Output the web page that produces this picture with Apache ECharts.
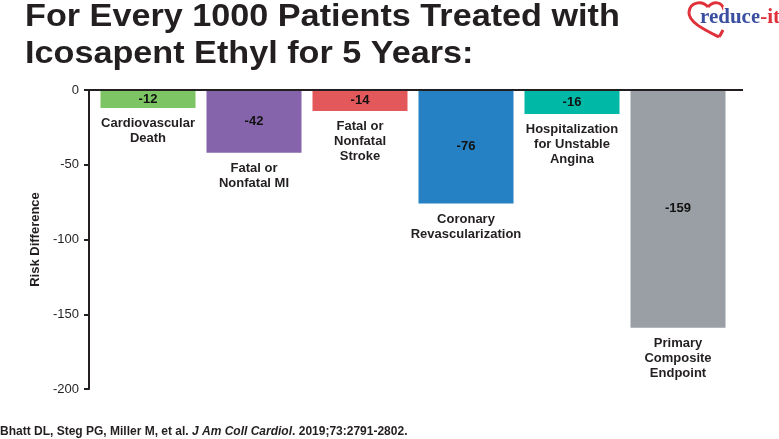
<!DOCTYPE html>
<html>
<head>
<meta charset="utf-8">
<script src="https://cdn.jsdelivr.net/npm/echarts@6/dist/echarts.min.js"></script>
<style>
html,body{margin:0;padding:0;background:#fff;}
#chart{width:779px;height:439px;}
</style>
</head>
<body>
<div id="chart"></div>
<script>
const categories = [
  'Cardiovascular\nDeath',
  'Fatal or\nNonfatal MI',
  'Fatal or\nNonfatal\nStroke',
  'Coronary\nRevascularization',
  'Hospitalization\nfor Unstable\nAngina',
  'Primary\nComposite\nEndpoint'
];
const values = [-12, -42, -14, -76, -16, -159];
const barColors = ['#7cc464', '#8664ab', '#e3585b', '#2581c4', '#00b8a6', '#9a9fa5'];
const yMin = -200, yMax = 0, yInterval = 50;
const titleLines = ['For Every 1000 Patients Treated with', 'Icosapent Ethyl for 5 Years:'];
const citation = ['Bhatt DL, Steg PG, Miller M, et al. ', 'J Am Coll Cardiol', '. 2019;73:2791-2802.'];

const dark = '#231f20';
const font = '"Liberation Sans", Arial, sans-serif';
const serif = '"Liberation Serif", "DejaVu Serif", serif';
const heartRed = '#e0313b';
const heartSegs = [
  [708, 7, 689, 12, 702, 0, 690, 2],
  [689, 12, 719, 37, 688, 22, 705, 30],
  [719, 37, 723, 30, 721, 34, 722, 32],
  [708, 7, 724, 10, 713, 1, 722, 1]
];
const chart = echarts.init(document.getElementById('chart'));
chart.setOption({
  animation: false,
  backgroundColor: '#fff',
  grid: { left: 95, top: 90, width: 636, height: 299 },
  xAxis: {
    type: 'category',
    data: categories,
    axisLine: { show: true, lineStyle: { color: dark, width: 2 } },
    axisTick: { show: false },
    axisLabel: { show: false },
    splitLine: { show: false }
  },
  yAxis: {
    type: 'value',
    min: yMin, max: yMax, interval: yInterval,
    offset: 6,
    name: 'Risk Difference',
    nameLocation: 'middle',
    nameGap: 45,
    nameTextStyle: { fontFamily: font, fontWeight: 'bold', fontSize: 13, color: dark },
    axisLine: { show: true, lineStyle: { color: dark, width: 2 } },
    axisTick: { show: true, length: 5, lineStyle: { color: dark, width: 2 } },
    axisLabel: { fontFamily: font, fontSize: 13, color: dark, margin: 10 },
    splitLine: { show: false }
  },
  series: [
    {
      type: 'bar',
      barWidth: 95,
      data: values.map((v, i) => ({ value: v, itemStyle: { color: barColors[i] } })),
      label: {
        show: true, position: 'inside',
        fontFamily: font, fontWeight: 'bold', fontSize: 13, color: '#111',
        formatter: p => String(p.value)
      }
    },
    {
      type: 'bar',
      barWidth: 95,
      barGap: '-100%',
      silent: true,
      data: values,
      itemStyle: { color: 'rgba(0,0,0,0)' },
      label: {
        show: true, position: 'bottom', distance: 8,
        fontFamily: font, fontWeight: 'bold', fontSize: 13, color: dark, lineHeight: 15,
        align: 'center',
        formatter: p => p.name
      }
    }
  ],
  graphic: [
    { type: 'line', shape: { x1: 89, y1: 90, x2: 743, y2: 90 }, style: { stroke: dark, lineWidth: 2 }, z: 10 },
    {
      type: 'text', x: 25, y: -1, scaleX: 1.103,
      style: {
        text: titleLines.join('\n'),
        font: 'bold 31px ' + font, fill: dark, lineHeight: 37
      }
    }
  ].concat(heartSegs.map(s => ({
    type: 'bezierCurve',
    shape: { x1: s[0], y1: s[1], x2: s[2], y2: s[3], cpx1: s[4], cpy1: s[5], cpx2: s[6], cpy2: s[7] },
    style: { stroke: heartRed, lineWidth: 3, fill: null }
  }))).concat([
    {
      type: 'text', x: 700, y: 7, z: 20,
      style: {
        rich: {
          b: { fontFamily: serif, fontWeight: 'bold', fontSize: 21, fill: '#3a4fa0' },
          r: { fontFamily: serif, fontWeight: 'bold', fontSize: 21, fill: heartRed }
        },
        text: '{b|reduce}{r|-it}',
        stroke: '#fff', lineWidth: 3
      }
    },
    {
      type: 'text', left: 0, top: 426,
      style: {
        rich: {
          n: { fontFamily: font, fontWeight: 'bold', fontSize: 12, fill: dark },
          i: { fontFamily: font, fontWeight: 'bold', fontStyle: 'italic', fontSize: 12, fill: dark }
        },
        text: '{n|' + citation[0] + '}{i|' + citation[1] + '}{n|' + citation[2] + '}'
      }
    }
  ])
});
</script>
</body>
</html>
